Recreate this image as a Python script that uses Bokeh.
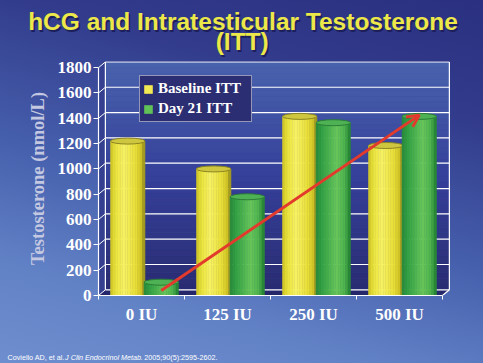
import numpy as np
from bokeh.plotting import figure
from bokeh.layouts import column
from bokeh.models import (Range1d, FixedTicker, Label, Legend, LegendItem,
                          Arrow, OpenHead)
from bokeh.embed import file_html
from bokeh.resources import INLINE

# ---------------- data ----------------
categories = ["0 IU", "125 IU", "250 IU", "500 IU"]
baseline_itt = [1220, 1000, 1415, 1185]
day21_itt = [105, 780, 1365, 1415]
series_names = ["Baseline ITT", "Day 21 ITT"]
y_ticks = [0, 200, 400, 600, 800, 1000, 1200, 1400, 1600, 1800]
trend_start_value = 40      # red trend arrow, at 0 IU (Day 21)
trend_end_value = 1425      # red trend arrow, at 500 IU (Day 21)

title_line1 = "hCG and Intratesticular Testosterone"
title_line2 = "(ITT)"
y_title = "Testosterone (nmol/L)"
cite_parts = ["Coviello AD, et al. ", "J Clin Endocrinol Metab.", " 2005;90(5):2595-2602."]
cite_styles = ["normal", "italic", "normal"]

# ---------------- layout / style ----------------
W = 483
H_TOP, H_MAIN, H_CITE = 57, 291, 15
ML, MR, MT, MB = 98, 31, 4, 53
depth_x, depth_y = 0.08, 45          # 3-D wall offset (data units)
base_off, day_off, bar_w = -0.16, 0.23, 0.40
units_per_px = 7.9
px_per_cat = 86.0
BG = "linear-gradient(195deg, #2b3080 0%, #323b8c 25%, #4660ad 55%, #6282c6 80%, #6e8ecf 100%)"


def bare_figure(h):
    f = figure(width=W, height=h, output_backend="svg", toolbar_location=None, title=None,
               x_axis_type=None, y_axis_type=None,
               x_range=Range1d(0, W), y_range=Range1d(h, 0),
               min_border_left=0, min_border_right=0, min_border_top=0, min_border_bottom=0)
    f.background_fill_alpha = 0
    f.border_fill_alpha = 0
    f.outline_line_color = None
    f.frame_align = False
    return f


# ---------------- title strip ----------------
tfig = bare_figure(H_TOP)
for t, fx, fy in [(title_line1, 242.5, 21.2), (title_line2, 241.7, 41.0)]:
    for dx, dy, col in [(1.5, 1.5, "#1c1f5c"), (0, 0, "#ece84a")]:
        tfig.add_layout(Label(x=fx + dx, y=fy + dy, text=t, text_font="Liberation Sans",
                              text_font_style="bold", text_font_size="24.5px",
                              text_color=col, text_align="center",
                              text_baseline="alphabetic"))

# ---------------- main chart ----------------
p = figure(width=W, height=H_MAIN, output_backend="svg", toolbar_location=None, title=None,
           x_range=Range1d(-0.5, -0.5 + (W - ML - MR) / px_per_cat),
           y_range=Range1d(0, (H_MAIN - MB - MT) * units_per_px),
           min_border_left=ML, min_border_right=MR, min_border_top=MT,
           min_border_bottom=MB)
p.background_fill_alpha = 0
p.border_fill_alpha = 0
p.outline_line_color = None
p.frame_align = False
p.xgrid.visible = False
p.ygrid.visible = False


def hex2rgb(h):
    h = h.lstrip("#")
    return np.array([int(h[i:i + 2], 16) for i in (0, 2, 4)], dtype=float)


def rgb2hex(c):
    c = np.clip(np.round(c), 0, 255).astype(int)
    return "#%02x%02x%02x" % tuple(c)


def ramp(stops, u):
    pos = [s[0] for s in stops]
    cols = np.array([hex2rgb(s[1]) for s in stops])
    return rgb2hex([np.interp(u, pos, cols[:, k]) for k in range(3)])


x_left, x_right = -0.5, 3.5
top_tick = y_ticks[-1]

# back wall gradient
K = 40
edges = np.linspace(depth_y, top_tick + depth_y, K + 1)
wall_cols = [ramp([(0, "#2a2c72"), (0.5, "#35409a"), (1, "#4a63ad")], (i + 0.5) / K) for i in range(K)]
p.quad(left=x_left + depth_x, right=x_right + depth_x, bottom=edges[:-1], top=edges[1:],
       fill_color=wall_cols, line_color=wall_cols, line_width=0.5)
# side wall
p.patch([x_left, x_left + depth_x, x_left + depth_x, x_left],
        [0, depth_y, top_tick + depth_y, top_tick], color="#34408f", line_color=None)
# floor
p.patch([x_left, x_right, x_right + depth_x, x_left + depth_x],
        [0, 0, depth_y, depth_y], color="#25276a", line_color=None)

yt = np.array(y_ticks, dtype=float)
p.segment(x0=[x_left + depth_x] * len(yt), y0=yt + depth_y,
          x1=[x_right + depth_x] * len(yt), y1=yt + depth_y, line_color="white", line_width=1.2)
p.segment(x0=[x_left] * len(yt), y0=yt, x1=[x_left + depth_x] * len(yt), y1=yt + depth_y,
          line_color="white", line_width=1)
p.segment(x0=[x_left + depth_x, x_right + depth_x, x_right],
          y0=[depth_y, depth_y, 0],
          x1=[x_left + depth_x, x_right + depth_x, x_right + depth_x],
          y1=[top_tick + depth_y, top_tick + depth_y, depth_y],
          line_color="white", line_width=1.2)

# bars (cylinder shading)
yellow_stops = [(0, "#c9bf28"), (0.15, "#ebe33a"), (0.4, "#f7f264"), (0.75, "#e7dd36"),
                (0.92, "#cbbf24"), (1, "#85801a")]
green_stops = [(0, "#26883a"), (0.2, "#36a446"), (0.6, "#68c65a"), (0.85, "#4cb24c"),
               (1, "#1e7a30")]
N = 14
xs_cat = np.arange(len(categories), dtype=float)
legend_renderers = []
for vals, off, stops, cap_fill, cap_line in [
        (baseline_itt, base_off, yellow_stops, "#cfc640", "#8c8520"),
        (day21_itt, day_off, green_stops, "#4eb154", "#2a7d36")]:
    centers = xs_cat + off
    sw = bar_w / N
    rmain = None
    for i in range(N):
        u = (i + 0.5) / N
        col = ramp(stops, u)
        r = p.vbar(x=centers - bar_w / 2 + sw * (i + 0.5), width=sw, top=vals, bottom=0,
                   fill_color=col, line_color=col, line_width=0.6)
        if i == int(N * 0.5):
            rmain = r
    p.ellipse(x=centers, y=vals, width=bar_w, height=6, height_units="screen",
              fill_color=cap_fill, line_color=cap_line, line_width=1)
    legend_renderers.append(rmain)

# axes
p.xaxis.ticker = FixedTicker(ticks=list(xs_cat), minor_ticks=[-0.5, 0.5, 1.5, 2.5, 3.5])
p.xaxis.major_label_overrides = {i: c for i, c in enumerate(categories)}
p.xaxis.major_tick_line_color = None
p.xaxis.major_tick_out = 0
p.xaxis.major_tick_in = 0
p.xaxis.minor_tick_line_color = "white"
p.xaxis.minor_tick_out = 4
p.xaxis.minor_tick_in = 0
p.xaxis.axis_line_color = "white"
p.xaxis.axis_line_width = 1.2
p.xaxis.bounds = (x_left, x_right)
p.xaxis.major_label_standoff = 5
p.xaxis.major_label_text_font = "Liberation Serif"
p.xaxis.major_label_text_font_style = "bold"
p.xaxis.major_label_text_font_size = "17px"
p.xaxis.major_label_text_color = "white"

p.yaxis.ticker = FixedTicker(ticks=y_ticks, minor_ticks=[])
p.yaxis.major_tick_out = 5
p.yaxis.major_tick_in = 0
p.yaxis.major_tick_line_color = "white"
p.yaxis.minor_tick_line_color = None
p.yaxis.axis_line_color = "white"
p.yaxis.axis_line_width = 1.2
p.yaxis.bounds = (0, top_tick)
p.yaxis.major_label_standoff = 2
p.yaxis.major_label_text_font = "Liberation Serif"
p.yaxis.major_label_text_font_style = "bold"
p.yaxis.major_label_text_font_size = "17px"
p.yaxis.major_label_text_color = "white"
p.yaxis.axis_label = y_title
p.yaxis.axis_label_text_font = "Liberation Serif"
p.yaxis.axis_label_text_font_style = "bold"
p.yaxis.axis_label_text_font_size = "18.5px"
p.yaxis.axis_label_text_color = "#c4c8e0"
p.yaxis.axis_label_standoff = 7

# legend
legend = Legend(items=[LegendItem(label=series_names[0], renderers=[legend_renderers[0]]),
                       LegendItem(label=series_names[1], renderers=[legend_renderers[1]])],
                location=(41, 173))
legend.background_fill_color = "#2b2e72"
legend.background_fill_alpha = 1
legend.border_line_color = "white"
legend.border_line_width = 1.5
legend.label_text_font = "Liberation Serif"
legend.label_text_font_style = "bold"
legend.label_text_font_size = "15px"
legend.label_text_color = "white"
legend.glyph_width = 10
legend.glyph_height = 10
legend.label_standoff = 5
legend.padding = 3
legend.spacing = 1
legend.margin = 0
legend.label_height = 19
legend.label_width = 90
p.add_layout(legend, "center")

# trend arrow
p.add_layout(Arrow(end=OpenHead(size=12, line_color="#e23a2c", line_width=3),
                   x_start=xs_cat[0] + day_off, y_start=trend_start_value,
                   x_end=xs_cat[-1] + day_off, y_end=trend_end_value,
                   line_color="#e23a2c", line_width=3))

# ---------------- citation strip ----------------
cfig = bare_figure(H_CITE)
cite_size = 7.2
cite_em = [8.0, 11.0, 10.45]     # approximate text widths in em
cx = 7.0
for txt, sty, em in zip(cite_parts, cite_styles, cite_em):
    cfig.add_layout(Label(x=cx, y=9.0, text=txt.strip(), text_font="Liberation Sans",
                          text_font_style=sty, text_font_size="%gpx" % cite_size,
                          text_color="white", text_align="left", text_baseline="alphabetic"))
    cx += em * cite_size

page = column(tfig, p, cfig, spacing=0)
page.styles = {"background": BG}

open("out.html", "w").write(file_html(page, INLINE))
